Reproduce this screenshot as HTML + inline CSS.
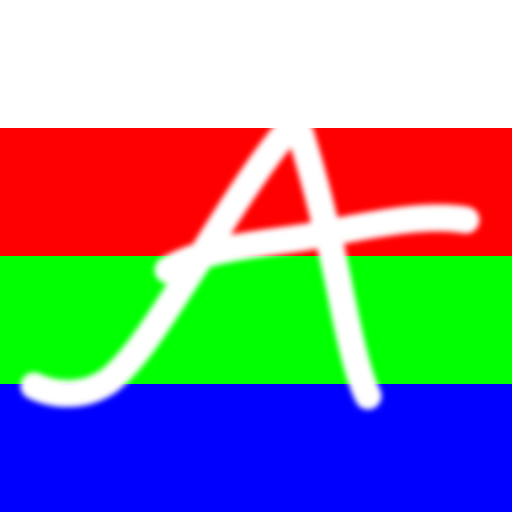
<!DOCTYPE html>
<html><head><meta charset="utf-8"><style>html,body{margin:0;padding:0;width:512px;height:512px;overflow:hidden;background:#fff}</style></head>
<body>
<svg width="512" height="512" viewBox="0 0 512 512" xmlns="http://www.w3.org/2000/svg">
<defs><filter id="b" x="-10%" y="-10%" width="120%" height="120%"><feGaussianBlur stdDeviation="3"/></filter></defs>
<rect x="0" y="0" width="512" height="128" fill="#ffffff"/>
<rect x="0" y="128" width="512" height="128" fill="#ff0000"/>
<rect x="0" y="256" width="512" height="128" fill="#00ff00"/>
<rect x="0" y="384" width="512" height="128" fill="#0000ff"/>
<g fill="none" stroke="#fff" stroke-width="27" stroke-linecap="round" stroke-linejoin="round" filter="url(#b)">
<path d="M34,386 C55,396 85,398 110,380 C140,355 165,310 200,258 C230,210 262,160 288,130"/>
<path d="M300,132 C315,180 330,240 342,300 C352,350 360,380 368,396"/>
<path d="M168,270 C200,250 250,245 300,238 C360,228 420,212 466,220"/>
</g>
</svg>
</body></html>
